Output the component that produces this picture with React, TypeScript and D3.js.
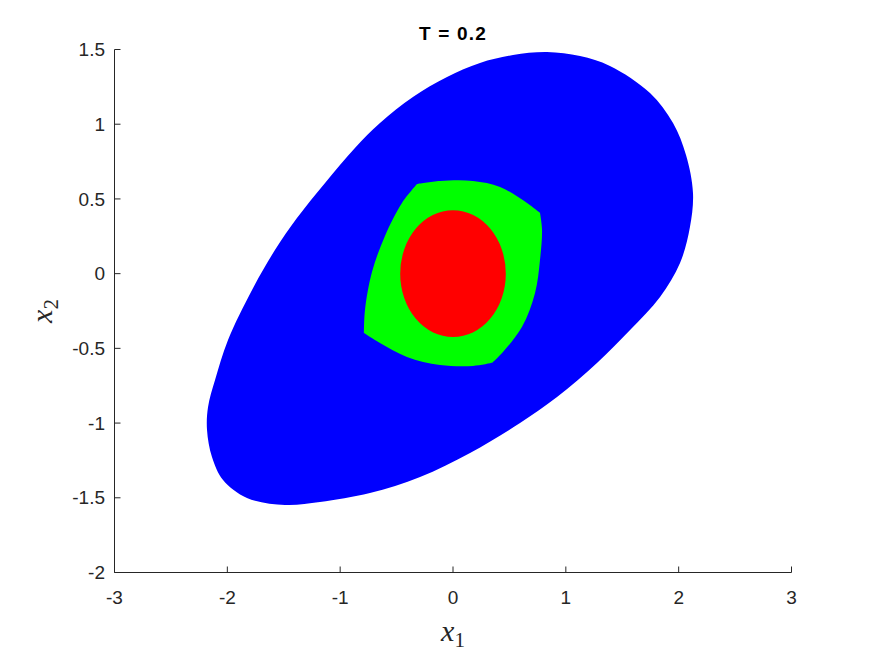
import React from "react";
import * as d3 from "d3";

const W = 875;
const H = 656;

const xTicks = [-3, -2, -1, 0, 1, 2, 3];
const yTicks = [-2, -1.5, -1, -0.5, 0, 0.5, 1, 1.5];
const titleText = "T = 0.2";

// Outer (blue) set boundary, clockwise from the top
const blueX1 = [0.833, 1.126, 1.391, 1.746, 1.95, 2.065, 2.127, 2.1, 2.012, 1.835, 1.569, 1.276, 0.922, 0.594, 0.151, -0.292, -0.736, -1.179, -1.489, -1.826, -2.038, -2.136, -2.18, -2.171, -2.109, -1.994, -1.781, -1.578, -1.383, -1.134, -0.869, -0.647, -0.355, -0.053, 0.239, 0.532];
const blueX2 = [1.483, 1.456, 1.39, 1.209, 1.008, 0.794, 0.54, 0.312, 0.071, -0.156, -0.377, -0.598, -0.826, -1.0, -1.2, -1.361, -1.468, -1.528, -1.548, -1.501, -1.381, -1.227, -1.046, -0.892, -0.712, -0.444, -0.109, 0.158, 0.372, 0.607, 0.841, 1.008, 1.182, 1.316, 1.41, 1.463];

// Middle (green) set boundary, clockwise from the top-left corner
const greenX1 = [-0.319, -0.115, 0.177, 0.417, 0.656, 0.771, 0.789, 0.771, 0.727, 0.612, 0.443, 0.346, 0.177, -0.115, -0.408, -0.647, -0.789, -0.78, -0.718, -0.603, -0.452];
const greenX2 = [0.6, 0.62, 0.62, 0.58, 0.473, 0.407, 0.293, 0.092, -0.129, -0.356, -0.524, -0.597, -0.618, -0.611, -0.557, -0.464, -0.397, -0.243, 0.011, 0.252, 0.473];
const greenCorners = [0, 5, 11, 16];

// Inner (red) ellipse: center and semi-axes
const redCenter = [0, 0];
const redSemi = [0.468, 0.424];

const left = 114.5;
const right = 791.5;
const top = 49.5;
const bottom = 572.5;

export default function App() {
  const x = d3.scaleLinear().domain([-3, 3]).range([left, right]);
  const y = d3.scaleLinear().domain([-2, 1.5]).range([bottom, top]);

  const blue = blueX1.map((v, i) => [v, blueX2[i]] as [number, number]);
  const green = greenX1.map((v, i) => [v, greenX2[i]] as [number, number]);

  const lineBlue = d3
    .line<[number, number]>()
    .x((d) => x(d[0]))
    .y((d) => y(d[1]))
    .curve(d3.curveCatmullRomClosed.alpha(0.5));

  const edgeLine = d3
    .line<[number, number]>()
    .x((d) => x(d[0]))
    .y((d) => y(d[1]))
    .curve(d3.curveCatmullRom.alpha(0.5));

  // green: four gently curved edges joined at corners
  let greenPath = "";
  greenCorners.forEach((c, k) => {
    const next = greenCorners[(k + 1) % greenCorners.length];
    const pts: [number, number][] = [];
    let i = c;
    while (true) {
      pts.push(green[i]);
      if (i === next && pts.length > 1) break;
      i = (i + 1) % green.length;
    }
    const seg = edgeLine(pts) || "";
    greenPath += k === 0 ? seg : "L" + seg.slice(1);
  });
  greenPath += "Z";

  const axisColor = "#262626";
  const tickFont = "Liberation Sans, Arial, Helvetica, sans-serif";
  const mathFont = "Liberation Serif, DejaVu Serif, serif";

  return (
    <svg
      width={W}
      height={H}
      style={{ position: "absolute", left: 0, top: 0, background: "#fff" }}
    >
      <rect x={0} y={0} width={W} height={H} fill="#fff" />
      <path d={lineBlue(blue) || ""} fill="#0000ff" />
      <path d={greenPath} fill="#00ff00" />
      <ellipse
        cx={x(redCenter[0])}
        cy={y(redCenter[1])}
        rx={x(redSemi[0]) - x(0)}
        ry={y(0) - y(redSemi[1])}
        fill="#ff0000"
      />

      {/* axes */}
      <line x1={left} x2={right} y1={bottom} y2={bottom} stroke={axisColor} strokeWidth={1} />
      <line x1={left} x2={left} y1={top} y2={bottom} stroke={axisColor} strokeWidth={1} />
      {xTicks.map((t) => (
        <g key={"x" + t}>
          <line x1={x(t)} x2={x(t)} y1={bottom} y2={bottom - 6} stroke={axisColor} />
          <text
            x={x(t)}
            y={bottom + 31}
            textAnchor="middle"
            fontSize={19}
            fontFamily={tickFont}
            fill={axisColor}
          >
            {t}
          </text>
        </g>
      ))}
      {yTicks.map((t) => (
        <g key={"y" + t}>
          <line x1={left} x2={left + 6} y1={y(t)} y2={y(t)} stroke={axisColor} />
          <text
            x={left - 9.5}
            y={y(t)}
            dy="0.35em"
            textAnchor="end"
            fontSize={19}
            fontFamily={tickFont}
            fill={axisColor}
          >
            {t}
          </text>
        </g>
      ))}

      {/* title */}
      <text
        x={(left + right) / 2}
        y={40}
        textAnchor="middle"
        fontSize={19}
        fontWeight="bold"
        letterSpacing={1.2}
        fontFamily={tickFont}
        fill="#000"
      >
        {titleText}
      </text>

      {/* axis labels */}
      <text
        x={(left + right) / 2}
        y={641}
        textAnchor="middle"
        fontSize={30}
        fontFamily={mathFont}
        fill="#262626"
      >
        <tspan fontStyle="italic">x</tspan>
        <tspan fontSize={21} dy={6}>1</tspan>
      </text>
      <text
        transform={`translate(52, ${(top + bottom) / 2}) rotate(-90)`}
        textAnchor="middle"
        fontSize={30}
        fontFamily={mathFont}
        fill="#262626"
      >
        <tspan fontStyle="italic">x</tspan>
        <tspan fontSize={21} dy={6}>2</tspan>
      </text>
    </svg>
  );
}
